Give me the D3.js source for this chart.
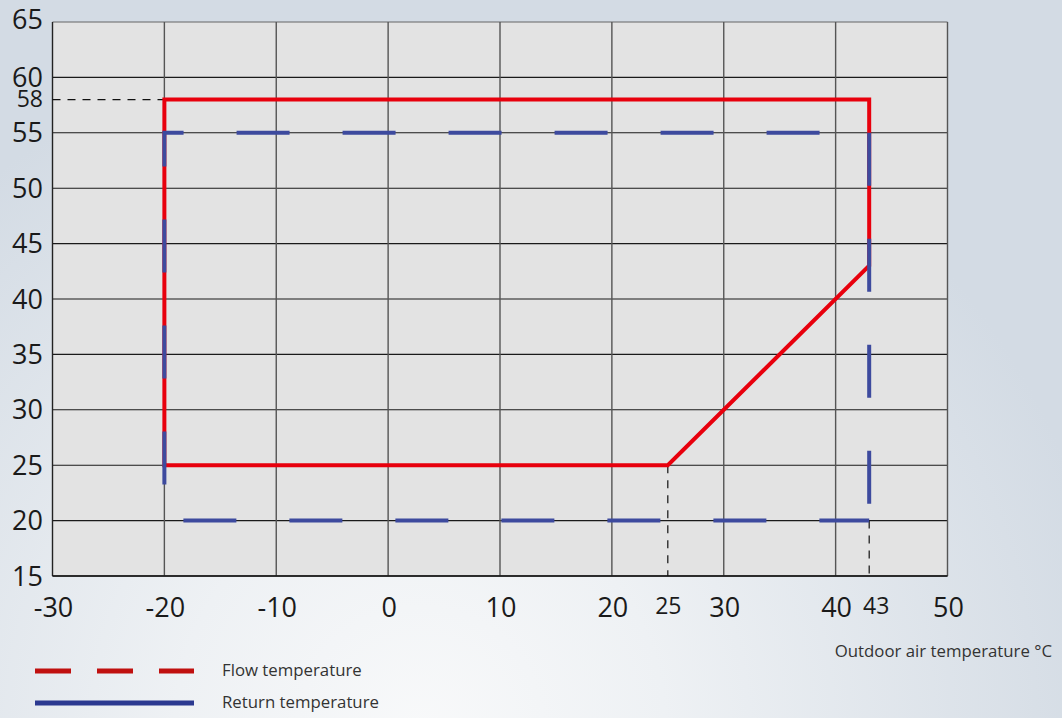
<!DOCTYPE html>
<html><head><meta charset="utf-8">
<script src="https://cdn.jsdelivr.net/npm/d3@7"></script>
<style>html,body{margin:0;padding:0;overflow:hidden;}svg{display:block;}</style>
</head><body>
<script>
// ---- data ----
const xTicks = [-30, -20, -10, 0, 10, 20, 30, 40, 50];
const xSpecialTicks = [25, 43];
const yTicks = [15, 20, 25, 30, 35, 40, 45, 50, 55, 60, 65];
const ySpecialTicks = [58];
const flowX = [-20, -20, 43, 43, 25, -20];
const flowY = [25, 58, 58, 43, 25, 25];
const returnLeftTopX = [-20, -20, 43];
const returnLeftTopY = [20, 55, 55];
const returnRightX = [43, 43];
const returnRightY = [55, 20];
const returnBottomX = [-20, 43];
const returnBottomY = [20, 20];
const legendLabels = ["Flow temperature", "Return temperature"];
const xAxisTitle = "Outdoor air temperature °C";

const W = 1062, H = 718;
const svg = d3.select("body").append("svg").attr("width", W).attr("height", H);
const defs = svg.append("defs");
const grad = defs.append("radialGradient").attr("id", "bg")
  .attr("gradientUnits", "userSpaceOnUse").attr("cx", 420).attr("cy", 730).attr("r", 700);
grad.append("stop").attr("offset", "0").attr("stop-color", "#f8f9fa");
grad.append("stop").attr("offset", "0.35").attr("stop-color", "#eef1f4");
grad.append("stop").attr("offset", "1").attr("stop-color", "#d3dbe4");
svg.append("rect").attr("width", W).attr("height", H).attr("fill", "url(#bg)");

const x = d3.scaleLinear().domain([-30, 50]).range([52.5, 947.5]);
const y = d3.scaleLinear().domain([15, 65]).range([576, 22]);
const font = "'Open Sans', 'DejaVu Sans', sans-serif";

// plot area
svg.append("rect").attr("x", x(-30)).attr("y", y(65)).attr("width", x(50) - x(-30))
  .attr("height", y(15) - y(65)).attr("fill", "#e3e3e3");

// grid
const g = svg.append("g");
g.selectAll(".hg").data(yTicks).join("line")
  .attr("x1", x(-30)).attr("x2", x(50)).attr("y1", d => y(d)).attr("y2", d => y(d))
  .attr("stroke", d => d === 65 ? "#666" : "#1a1a1a").attr("stroke-width", 1.1);
g.selectAll(".vg").data(xTicks).join("line")
  .attr("x1", d => x(d)).attr("x2", d => x(d)).attr("y1", y(65)).attr("y2", y(15))
  .attr("stroke", d => (d === -30) ? "#222" : "#555").attr("stroke-width", 1.4);
g.append("line").attr("x1", x(-30)).attr("x2", x(50)).attr("y1", y(15)).attr("y2", y(15))
  .attr("stroke", "#111").attr("stroke-width", 1.4);

// reference dashed lines
const refDash = "8 7";
svg.append("line").attr("x1", x(-30)).attr("x2", x(-20)).attr("y1", y(58)).attr("y2", y(58))
  .attr("stroke", "#111").attr("stroke-width", 1.2).attr("stroke-dasharray", refDash);
svg.append("line").attr("x1", x(25)).attr("x2", x(25)).attr("y1", y(25)).attr("y2", y(15))
  .attr("stroke", "#111").attr("stroke-width", 1.2).attr("stroke-dasharray", refDash);
svg.append("line").attr("x1", x(43)).attr("x2", x(43)).attr("y1", y(20)).attr("y2", y(15))
  .attr("stroke", "#111").attr("stroke-width", 1.2).attr("stroke-dasharray", refDash);

const line = d3.line().x(d => x(d[0])).y(d => y(d[1]));
const zip = (a, b) => a.map((v, i) => [v, b[i]]);

// flow (red solid)
svg.append("path").attr("d", line(zip(flowX, flowY)) + "Z").attr("fill", "none")
  .attr("stroke", "#e8000d").attr("stroke-width", 4).attr("stroke-linejoin", "miter");

// return (blue dashed)
const blue = "#3d4a9e";
svg.append("path").attr("d", line(zip(returnLeftTopX, returnLeftTopY))).attr("fill", "none")
  .attr("stroke", blue).attr("stroke-width", 4).attr("stroke-dasharray", "53 53").attr("stroke-dashoffset", 70);
svg.append("path").attr("d", line(zip(returnRightX, returnRightY))).attr("fill", "none")
  .attr("stroke", blue).attr("stroke-width", 4).attr("stroke-dasharray", "53 53").attr("stroke-dashoffset", 0);
svg.append("path").attr("d", line(zip(returnBottomX, returnBottomY))).attr("fill", "none")
  .attr("stroke", blue).attr("stroke-width", 4).attr("stroke-dasharray", "53 53").attr("stroke-dashoffset", 87);

// y labels
svg.selectAll(".yl").data(yTicks).join("text")
  .attr("x", 43).attr("y", d => y(d) + (d === 65 ? 7 : 9.5)).attr("text-anchor", "end")
  .attr("font-family", font).attr("font-size", 27).attr("fill", "#1a1a1a").text(d => d);
svg.selectAll(".ys").data(ySpecialTicks).join("text")
  .attr("x", 43).attr("y", d => y(d) + 7.5).attr("text-anchor", "end")
  .attr("font-family", font).attr("font-size", 23).attr("fill", "#1a1a1a").text(d => d);

// x labels
svg.selectAll(".xl").data(xTicks).join("text")
  .attr("x", d => x(d) + 1).attr("y", 617).attr("text-anchor", "middle")
  .attr("font-family", font).attr("font-size", 27).attr("fill", "#1a1a1a").text(d => d);
svg.selectAll(".xs").data(xSpecialTicks).join("text")
  .attr("x", d => x(d) + (d === 43 ? 7 : 0.5)).attr("y", 614).attr("text-anchor", "middle")
  .attr("font-family", font).attr("font-size", 23).attr("fill", "#1a1a1a").text(d => d);

// axis title
svg.append("text").attr("x", 1052).attr("y", 657).attr("text-anchor", "end")
  .attr("font-family", font).attr("font-size", 16.8).attr("fill", "#333").text(xAxisTitle);

// legend
svg.append("line").attr("x1", 35).attr("x2", 194).attr("y1", 671).attr("y2", 671)
  .attr("stroke", "#c0100f").attr("stroke-width", 5).attr("stroke-dasharray", "36 26");
svg.append("line").attr("x1", 35).attr("x2", 194).attr("y1", 703).attr("y2", 703)
  .attr("stroke", "#2b3990").attr("stroke-width", 5);
svg.selectAll(".lg").data(legendLabels).join("text")
  .attr("x", 222).attr("y", (d, i) => 676 + i * 32)
  .attr("font-family", font).attr("font-size", 16.8).attr("fill", "#333").text(d => d);
</script>
</body></html>
